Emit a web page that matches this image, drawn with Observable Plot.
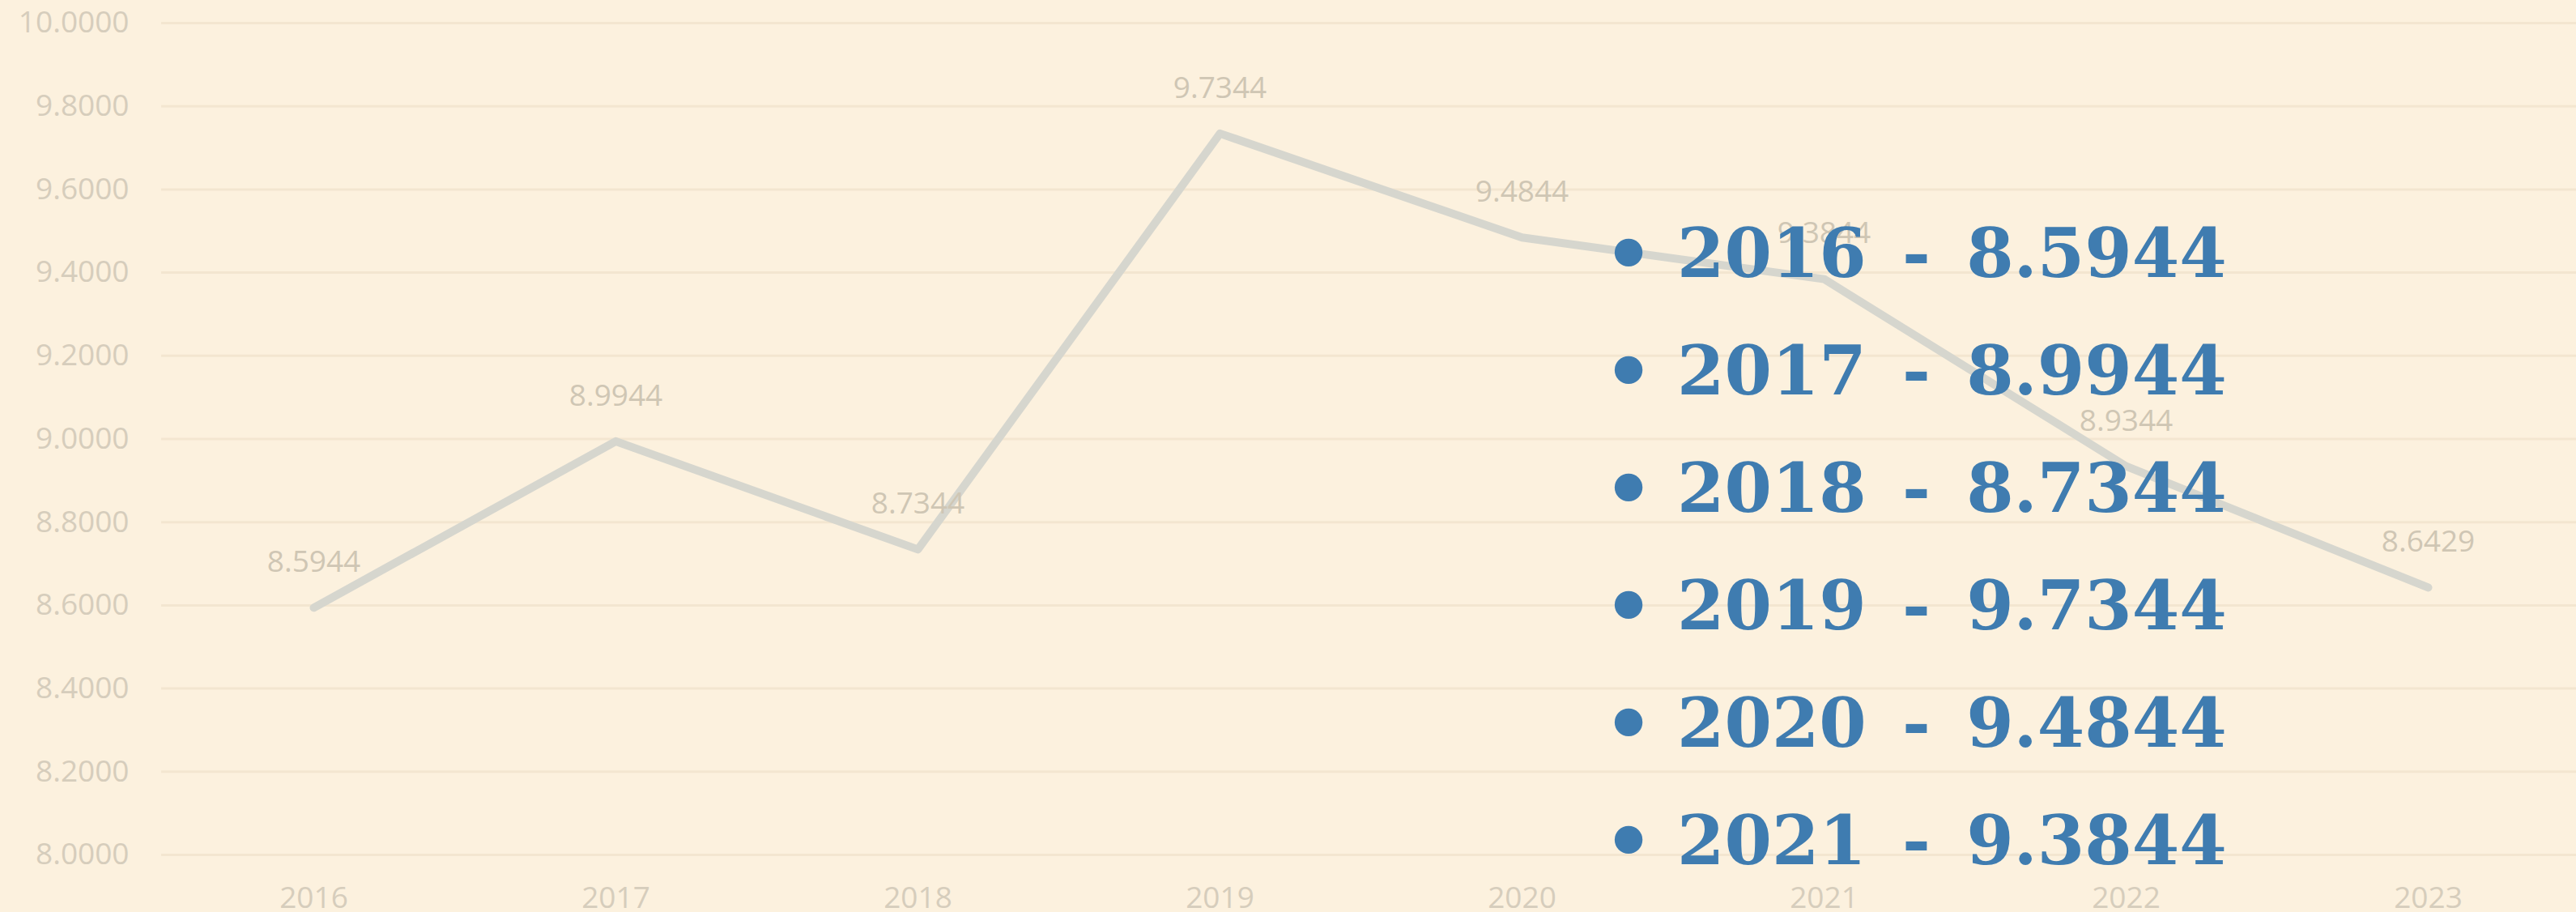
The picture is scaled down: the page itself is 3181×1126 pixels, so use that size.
<!DOCTYPE html>
<html>
<head>
<meta charset="utf-8">
<script src="https://cdn.jsdelivr.net/npm/d3@7"></script>
<script src="https://cdn.jsdelivr.net/npm/@observablehq/plot@0.6"></script>
<style>
  html, body { margin: 0; padding: 0; }
  body { background: #fcf1de; width: 3181px; height: 1126px; overflow: hidden; position: relative; }
  #chart { position: absolute; left: 0; top: 0; }
  #overlay { position: absolute; left: 0; top: 0; pointer-events: none; }
</style>
</head>
<body>
<div id="chart"></div>
<svg id="overlay" width="3181" height="1126"></svg>
<script>
// ---- data ----
const years = ["2016", "2017", "2018", "2019", "2020", "2021", "2022", "2023"];
const values = [8.5944, 8.9944, 8.7344, 9.7344, 9.4844, 9.3844, 8.9344, 8.6429];
const yTicks = [8.0, 8.2, 8.4, 8.6, 8.8, 9.0, 9.2, 9.4, 9.6, 9.8, 10.0];

const data = years.map((year, i) => ({year, value: values[i]}));

const W = 3181, H = 1126;

const chart = Plot.plot({
  width: W,
  height: H,
  marginLeft: 199,
  marginRight: 0,
  marginTop: 28,
  marginBottom: 71,
  style: {
    background: "transparent",
    fontFamily: "'Open Sans', sans-serif",
    fontSize: "37px",
    color: "#d6cdbc"
  },
  x: {type: "point", domain: years, padding: 0.5, range: [199, 3185], label: null},
  y: {domain: [8, 10], label: null},
  marks: [
    Plot.ruleY(yTicks, {stroke: "#f3e6d0", strokeWidth: 3}),
    Plot.line(data, {
      x: "year", y: "value",
      stroke: "#d6d6ce", strokeWidth: 10,
      strokeLinecap: "round", strokeLinejoin: "round"
    }),
    Plot.text(data, {
      x: "year", y: "value",
      text: d => d.value.toFixed(4),
      dy: -56,
      fill: "#cfc6b4",
      fontSize: 37
    }),
    Plot.axisY({
      ticks: yTicks,
      tickFormat: d => d.toFixed(4),
      tickSize: 0,
      tickPadding: 40,
      label: null
    }),
    Plot.axisX({
      tickSize: 0,
      tickPadding: 39,
      label: null
    })
  ]
});
document.getElementById("chart").appendChild(chart);

// ---- overlay bullet list ----
const overlay = d3.select("#overlay");
const firstBaseline = 342, lineStep = 145, capH = 60;
const items = data.filter((d, i) => firstBaseline + i * lineStep - capH < H);
const g = overlay.append("g")
  .attr("fill", "#3f7cb0")
  .attr("font-family", "'DejaVu Serif', serif")
  .attr("font-weight", "bold");
items.forEach((d, i) => {
  const base = firstBaseline + i * lineStep;
  g.append("text")
    .attr("x", 2011)
    .attr("y", base + 6)
    .attr("text-anchor", "middle")
    .attr("font-size", 98)
    .text("\u2022");
  g.append("text")
    .attr("x", 2071)
    .attr("y", base)
    .attr("font-size", 84)
    .attr("word-spacing", 15)
    .attr("xml:space", "preserve")
    .text(`${d.year} - ${d.value.toFixed(4)}`);
});
</script>
</body>
</html>
